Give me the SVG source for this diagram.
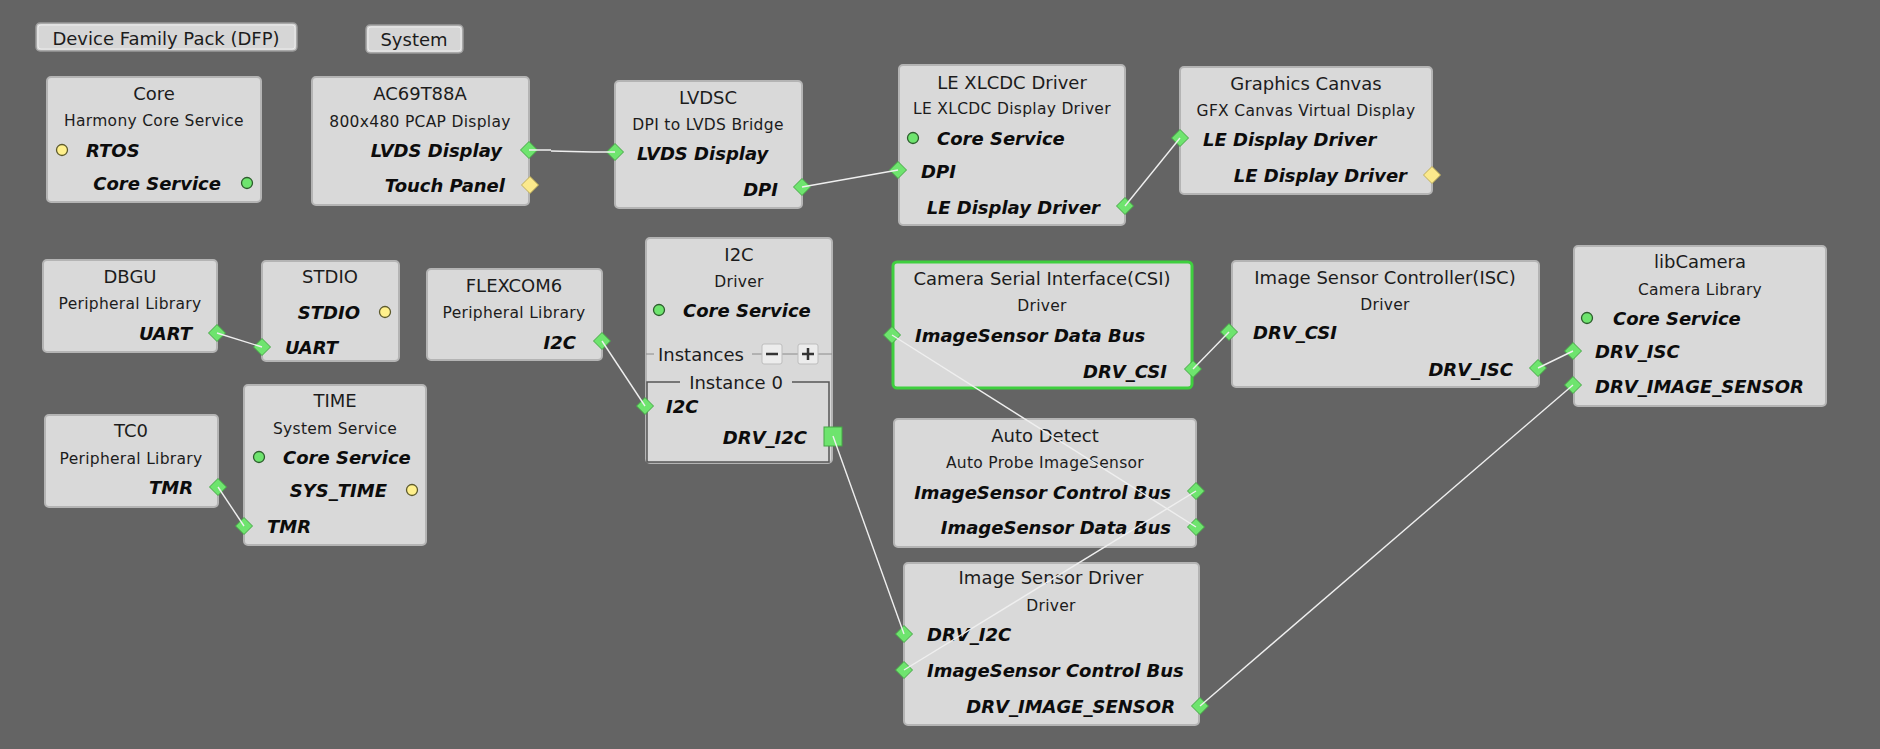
<svg xmlns="http://www.w3.org/2000/svg" xmlns:xlink="http://www.w3.org/1999/xlink" width="1880" height="749" viewBox="0 0 1880 749">
<style>
.box{fill:#d9d9d9;stroke:#b4b4b4;stroke-width:2}
.sel{fill:#d9d9d9;stroke:#3fcf3f;stroke-width:3}
.btn{fill:#d6d6d6;stroke:#9a9a9a;stroke-width:1.5}
.btnin{fill:none;stroke:#ececec;stroke-width:1}
.t{font-family:"DejaVu Sans",Verdana,sans-serif;font-size:18px;fill:#1c1c1c;text-anchor:middle;dominant-baseline:central}
.s{font-family:"DejaVu Sans",Verdana,sans-serif;font-size:15.5px;fill:#1c1c1c;text-anchor:middle;dominant-baseline:central;letter-spacing:0.3px}
.p{font-family:"DejaVu Sans",Verdana,sans-serif;font-size:18px;font-weight:bold;font-style:italic;fill:#0c0c0c;dominant-baseline:central}
.r{text-anchor:end}
.g{fill:#6ee46e;stroke:#45a845;stroke-width:1}
.y{fill:#fbe98c;stroke:#bfae5a;stroke-width:1}
.gc{fill:#6ee46e;stroke:#2d5d2d;stroke-width:1.3}
.yc{fill:#fff08c;stroke:#5d5a2d;stroke-width:1.3}
.ln{stroke:#efefef;stroke-width:1.4;fill:none}
.inst{fill:none;stroke:#555555;stroke-width:1.5}
.pm{fill:#ececec;stroke:#bdbdbd;stroke-width:1}
</style>
<defs>
<path id="dia" d="M0,-8.5 L8.5,0 L0,8.5 L-8.5,0Z"/>
</defs>
<rect width="1880" height="749" fill="#646464"/>

<g id="dfp">
<rect class="btn" x="36" y="23" width="261" height="28" rx="4"/>
<rect class="btnin" x="38" y="25" width="257" height="24" rx="3"/>
<text class="t" x="166" y="38">Device Family Pack (DFP)</text>
</g>
<g id="system">
<rect class="btn" x="366" y="25" width="97" height="28" rx="4"/>
<rect class="btnin" x="368" y="27" width="93" height="24" rx="3"/>
<text class="t" x="414" y="39">System</text>
</g>

<g id="core">
<rect class="box" x="47" y="77" width="214" height="125" rx="4"/>
<text class="t" x="154" y="93">Core</text>
<text class="s" x="154" y="121">Harmony Core Service</text>
<circle class="yc" cx="62" cy="150" r="5.5"/>
<text class="p" x="86" y="150">RTOS</text>
<text class="p r" x="221" y="183">Core Service</text>
<circle class="gc" cx="247" cy="183" r="5.5"/>
</g>

<g id="ac69t88a">
<rect class="box" x="312" y="77" width="217" height="128" rx="4"/>
<text class="t" x="420" y="93">AC69T88A</text>
<text class="s" x="420" y="122">800x480 PCAP Display</text>
<text class="p r" x="502" y="150">LVDS Display</text>
<use xlink:href="#dia" class="g" x="529" y="150"/>
<text class="p r" x="505" y="185">Touch Panel</text>
<use xlink:href="#dia" class="y" x="530" y="185"/>
</g>

<g id="lvdsc">
<rect class="box" x="615" y="81" width="187" height="127" rx="4"/>
<text class="t" x="708" y="97">LVDSC</text>
<text class="s" x="708" y="125">DPI to LVDS Bridge</text>
<text class="p" x="637" y="153">LVDS Display</text>
<use xlink:href="#dia" class="g" x="615" y="152"/>
<text class="p r" x="778" y="189">DPI</text>
<use xlink:href="#dia" class="g" x="802" y="187"/>
</g>

<g id="lexlcdc">
<rect class="box" x="899" y="65" width="226" height="160" rx="4"/>
<text class="t" x="1012" y="82">LE XLCDC Driver</text>
<text class="s" x="1012" y="109">LE XLCDC Display Driver</text>
<circle class="gc" cx="913" cy="138" r="5.5"/>
<text class="p" x="937" y="138">Core Service</text>
<text class="p" x="921" y="171">DPI</text>
<use xlink:href="#dia" class="g" x="898" y="170"/>
<text class="p r" x="1100" y="207">LE Display Driver</text>
<use xlink:href="#dia" class="g" x="1125" y="206"/>
</g>

<g id="gfxcanvas">
<rect class="box" x="1180" y="67" width="252" height="127" rx="4"/>
<text class="t" x="1306" y="83">Graphics Canvas</text>
<text class="s" x="1306" y="111">GFX Canvas Virtual Display</text>
<text class="p" x="1203" y="139">LE Display Driver</text>
<use xlink:href="#dia" class="g" x="1180" y="138"/>
<text class="p r" x="1407" y="175">LE Display Driver</text>
<use xlink:href="#dia" class="y" x="1432" y="175"/>
</g>

<g id="dbgu">
<rect class="box" x="43" y="260" width="174" height="92" rx="4"/>
<text class="t" x="130" y="276">DBGU</text>
<text class="s" x="130" y="304">Peripheral Library</text>
<text class="p r" x="192" y="333">UART</text>
<use xlink:href="#dia" class="g" x="217" y="333"/>
</g>

<g id="stdio">
<rect class="box" x="262" y="261" width="137" height="100" rx="4"/>
<text class="t" x="330" y="276">STDIO</text>
<text class="p r" x="360" y="312">STDIO</text>
<circle class="yc" cx="385" cy="312" r="5.5"/>
<text class="p" x="285" y="347">UART</text>
<use xlink:href="#dia" class="g" x="262" y="347"/>
</g>

<g id="flexcom6">
<rect class="box" x="427" y="269" width="175" height="91" rx="4"/>
<text class="t" x="514" y="285">FLEXCOM6</text>
<text class="s" x="514" y="313">Peripheral Library</text>
<text class="p r" x="576" y="342">I2C</text>
<use xlink:href="#dia" class="g" x="602" y="341"/>
</g>

<g id="i2c">
<rect class="box" x="646" y="238" width="186" height="225" rx="4"/>
<text class="t" x="739" y="254">I2C</text>
<text class="s" x="739" y="282">Driver</text>
<circle class="gc" cx="659" cy="310" r="5.5"/>
<text class="p" x="683" y="310">Core Service</text>
<line x1="646" y1="354" x2="654" y2="354" stroke="#8a8a8a" stroke-width="1"/>
<text class="t" x="658" y="354" style="text-anchor:start">Instances</text>
<line x1="752" y1="354" x2="832" y2="354" stroke="#8a8a8a" stroke-width="1"/>
<rect class="pm" x="762" y="344" width="20" height="20" rx="2"/>
<line x1="766" y1="354" x2="778" y2="354" stroke="#333" stroke-width="2.5"/>
<rect class="pm" x="798" y="344" width="20" height="20" rx="2"/>
<line x1="802" y1="354" x2="814" y2="354" stroke="#333" stroke-width="2.5"/>
<line x1="808" y1="348" x2="808" y2="360" stroke="#333" stroke-width="2.5"/>
<path class="inst" d="M680,382 H647 V462 H829 V382 H792"/>
<text class="t" x="736" y="382">Instance 0</text>
<text class="p" x="666" y="406">I2C</text>
<use xlink:href="#dia" class="g" x="645" y="406"/>
<text class="p r" x="807" y="437">DRV_I2C</text>
<rect x="824" y="427" width="18" height="19" fill="#6ee46e" stroke="#45a845" stroke-width="1"/>
</g>

<g id="tc0">
<rect class="box" x="45" y="415" width="173" height="92" rx="4"/>
<text class="t" x="131" y="430">TC0</text>
<text class="s" x="131" y="459">Peripheral Library</text>
<text class="p r" x="193" y="487">TMR</text>
<use xlink:href="#dia" class="g" x="218" y="487"/>
</g>

<g id="time">
<rect class="box" x="244" y="385" width="182" height="160" rx="4"/>
<text class="t" x="335" y="400">TIME</text>
<text class="s" x="335" y="429">System Service</text>
<circle class="gc" cx="259" cy="457" r="5.5"/>
<text class="p" x="283" y="457">Core Service</text>
<text class="p r" x="387" y="490">SYS_TIME</text>
<circle class="yc" cx="412" cy="490" r="5.5"/>
<text class="p" x="267" y="526">TMR</text>
<use xlink:href="#dia" class="g" x="244" y="526"/>
</g>

<g id="csi">
<rect class="sel" x="893" y="262" width="299" height="126" rx="4"/>
<text class="t" x="1042" y="278">Camera Serial Interface(CSI)</text>
<text class="s" x="1042" y="306">Driver</text>
<text class="p" x="915" y="335">ImageSensor Data Bus</text>
<use xlink:href="#dia" class="g" x="892" y="335"/>
<text class="p r" x="1167" y="371">DRV_CSI</text>
<use xlink:href="#dia" class="g" x="1193" y="369"/>
</g>

<g id="isc">
<rect class="box" x="1232" y="261" width="307" height="126" rx="4"/>
<text class="t" x="1385" y="277">Image Sensor Controller(ISC)</text>
<text class="s" x="1385" y="305">Driver</text>
<text class="p" x="1253" y="332">DRV_CSI</text>
<use xlink:href="#dia" class="g" x="1229" y="332"/>
<text class="p r" x="1513" y="369">DRV_ISC</text>
<use xlink:href="#dia" class="g" x="1538" y="368"/>
</g>

<g id="libcamera">
<rect class="box" x="1574" y="246" width="252" height="160" rx="4"/>
<text class="t" x="1700" y="261">libCamera</text>
<text class="s" x="1700" y="290">Camera Library</text>
<circle class="gc" cx="1587" cy="318" r="5.5"/>
<text class="p" x="1613" y="318">Core Service</text>
<text class="p" x="1595" y="351">DRV_ISC</text>
<use xlink:href="#dia" class="g" x="1573" y="351"/>
<text class="p" x="1595" y="386">DRV_IMAGE_SENSOR</text>
<use xlink:href="#dia" class="g" x="1573" y="385"/>
</g>

<g id="autodetect">
<rect class="box" x="894" y="419" width="302" height="128" rx="4"/>
<text class="t" x="1045" y="435">Auto Detect</text>
<text class="s" x="1045" y="463">Auto Probe ImageSensor</text>
<text class="p r" x="1171" y="492">ImageSensor Control Bus</text>
<use xlink:href="#dia" class="g" x="1196" y="491"/>
<text class="p r" x="1171" y="527">ImageSensor Data Bus</text>
<use xlink:href="#dia" class="g" x="1196" y="527"/>
</g>

<g id="imagesensordriver">
<rect class="box" x="904" y="563" width="295" height="162" rx="4"/>
<text class="t" x="1051" y="577">Image Sensor Driver</text>
<text class="s" x="1051" y="606">Driver</text>
<text class="p" x="927" y="634">DRV_I2C</text>
<use xlink:href="#dia" class="g" x="904" y="634"/>
<text class="p" x="927" y="670">ImageSensor Control Bus</text>
<use xlink:href="#dia" class="g" x="904" y="670"/>
<text class="p r" x="1175" y="706">DRV_IMAGE_SENSOR</text>
<use xlink:href="#dia" class="g" x="1200" y="706"/>
</g>

<g id="connectors">
<path class="ln" d="M529,150 H551 M551,151 L593,152 H615"/>
<line class="ln" x1="802" y1="187" x2="898" y2="170"/>
<line class="ln" x1="1125" y1="206" x2="1180" y2="138"/>
<line class="ln" x1="217" y1="333" x2="262" y2="347"/>
<line class="ln" x1="218" y1="487" x2="244" y2="526"/>
<line class="ln" x1="602" y1="341" x2="645" y2="406"/>
<line class="ln" x1="833" y1="436" x2="904" y2="634"/>
<line class="ln" x1="892" y1="335" x2="1196" y2="527"/>
<line class="ln" x1="1193" y1="369" x2="1229" y2="332"/>
<line class="ln" x1="1538" y1="368" x2="1573" y2="351"/>
<line class="ln" x1="1196" y1="491" x2="904" y2="670"/>
<line class="ln" x1="1200" y1="706" x2="1573" y2="385"/>
</g>
</svg>
